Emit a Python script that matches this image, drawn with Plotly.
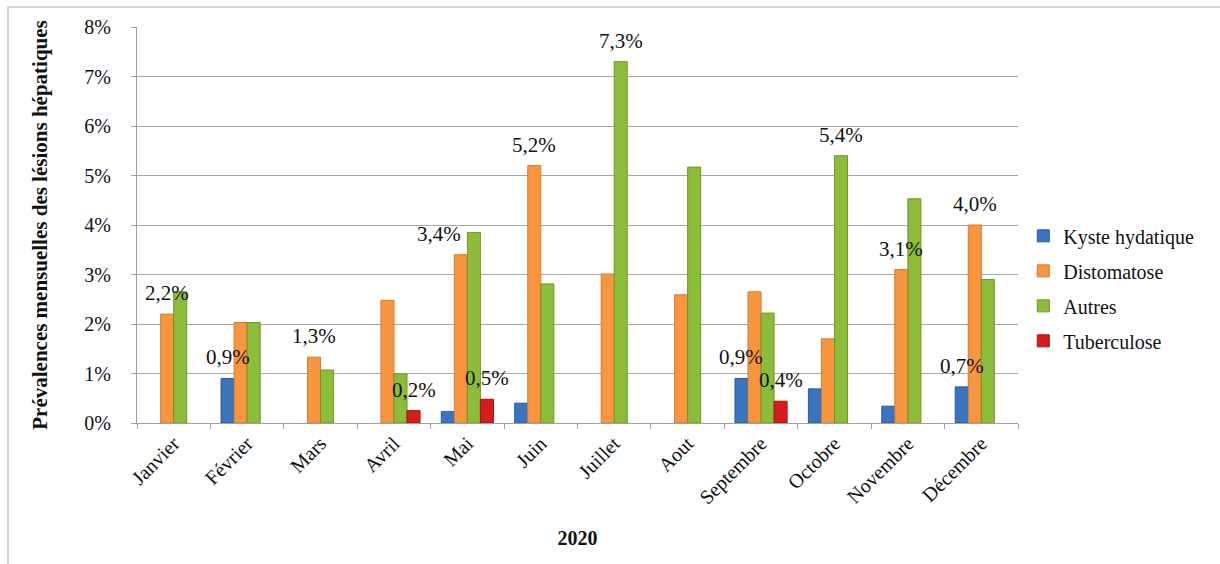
import plotly.graph_objects as go

months = ["Janvier", "Février", "Mars", "Avril", "Mai", "Juin", "Juillet",
          "Aout", "Septembre", "Octobre", "Novembre", "Décembre"]

kyste = [None, 0.009, None, None, 0.0023, 0.004, None, None, 0.009, 0.0069, 0.0034, 0.0073]
distomatose = [0.022, 0.0203, 0.0133, 0.0248, 0.034, 0.052, 0.0301, 0.0259, 0.0265, 0.0170, 0.031, 0.040]
autres = [0.0265, 0.0203, 0.0107, 0.0099, 0.0385, 0.0281, 0.073, 0.0517, 0.0222, 0.054, 0.0453, 0.0290]
tuberculose = [None, None, None, 0.0025, 0.0048, None, None, None, 0.0044, None, None, None]

series_names = ["Kyste hydatique", "Distomatose", "Autres", "Tuberculose"]
series_values = [kyste, distomatose, autres, tuberculose]
colors = ["#3874C0", "#F7963F", "#8DBB3A", "#D81C1C"]
line_colors = ["#2A5A98", "#D97A2A", "#6E9628", "#A81010"]

# which points carry a data label: (series index, month index, xshift px)
labels = [(1, 0, 0), (0, 1, 0), (1, 2, 0), (3, 3, 0), (1, 4, -22), (3, 4, 0),
          (1, 5, 0), (2, 6, 0), (0, 8, 0), (3, 8, 0), (2, 9, 0), (1, 10, 0),
          (1, 11, 0), (0, 11, 0)]

FONT = "Liberation Serif"
BARGAP = 0.29
n = len(series_names)
w = (1 - BARGAP) / n

fig = go.Figure()
for i, (name, vals) in enumerate(zip(series_names, series_values)):
    fig.add_trace(go.Bar(
        x=months, y=vals, name=name,
        marker=dict(color=colors[i], line=dict(color=line_colors[i], width=1)),
        legendgroup=name,
        hoverinfo="x+y+name",
    ))

annotations = []
for si, mi, xs in labels:
    v = series_values[si][mi]
    xpos = mi + (si - (n - 1) / 2) * w
    txt = f"{v*100:.1f}%".replace(".", ",")
    annotations.append(dict(
        x=xpos, y=v, xref="x", yref="y", text=txt, showarrow=False,
        yanchor="bottom", yshift=7, xshift=xs,
        font=dict(family=FONT, size=21, color="#111111"),
    ))

fig.update_layout(
    width=1220, height=564,
    margin=dict(l=137, r=202, t=27, b=141),
    paper_bgcolor="white", plot_bgcolor="white",
    barmode="group", bargap=BARGAP, bargroupgap=0,
    font=dict(family=FONT, size=20, color="#111111"),
    annotations=annotations,
    legend=dict(
        x=1.006, y=0.34, xanchor="left", yanchor="middle",
        font=dict(family=FONT, size=20, color="#111111"),
        tracegroupgap=6, itemwidth=30,
        bgcolor="rgba(0,0,0,0)",
    ),
    xaxis=dict(
        type="category", tickangle=-45, showgrid=False,
        showline=True, linecolor="#A0A0A0", linewidth=1,
        ticks="outside", ticklen=5, tickcolor="#A0A0A0",
        tickson="boundaries",
        tickfont=dict(family=FONT, size=20, color="#111111"),
        title=dict(text="<b>2020</b>", font=dict(family=FONT, size=20, color="#111111"), standoff=22),
    ),
    yaxis=dict(
        range=[0, 0.08], dtick=0.01, tickformat=".0%",
        showgrid=True, gridcolor="#A6A6A6", gridwidth=1,
        showline=True, linecolor="#A0A0A0", linewidth=1,
        ticks="outside", ticklen=5, tickcolor="#A0A0A0",
        ticklabelstandoff=16,
        zeroline=False,
        tickfont=dict(family=FONT, size=20, color="#111111"),
        title=dict(text="<b>Prévalences mensuelles des lésions hépatiques</b>",
                   font=dict(family=FONT, size=21, color="#111111"), standoff=30),
    ),
    shapes=[dict(
        type="rect", xref="paper", yref="paper",
        x0=(8 - 137) / 881, x1=1.3, y0=-0.5, y1=(423 - 7) / 396,
        line=dict(color="#C8C8C8", width=1.5), fillcolor="rgba(0,0,0,0)", layer="below",
    )],
)

fig.write_html("out.html")
